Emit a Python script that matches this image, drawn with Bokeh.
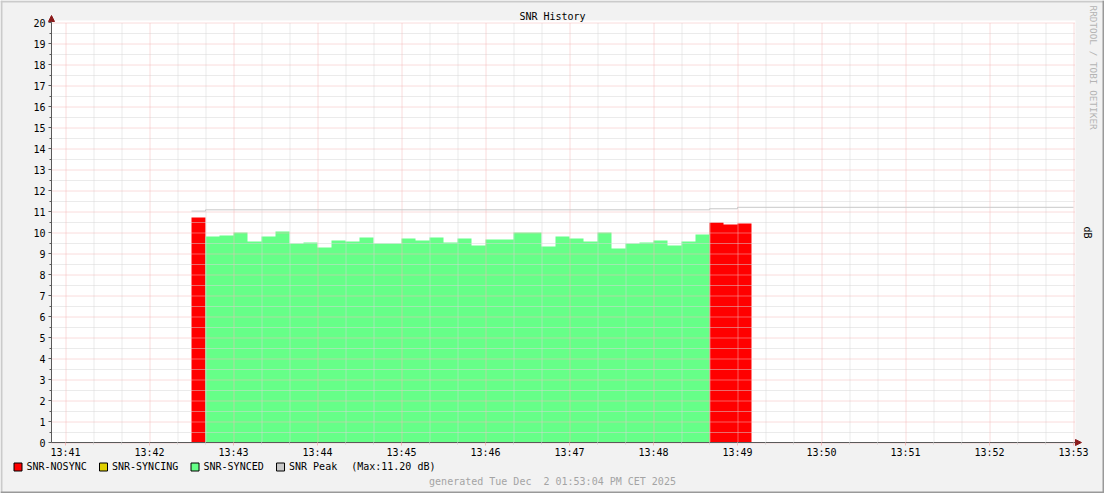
import math
import pandas as pd
from bokeh.plotting import figure
from bokeh.models import (Range1d, FixedTicker, ColumnDataSource, DatetimeTickFormatter,
                          Arrow, NormalHead, BoxAnnotation)
from bokeh.core.properties import value
from bokeh.embed import file_html
from bokeh.resources import INLINE

DAY = "2025-12-02 "
FONT = "DejaVu Sans Mono"

# ---- data ----
bar_start = "13:42:30"
bar_step_seconds = 10
snr_values = [10.71,
              9.81, 9.86, 10.00, 9.57, 9.81, 10.05, 9.48, 9.52, 9.29, 9.62, 9.57, 9.76,
              9.48, 9.48, 9.71, 9.62, 9.76, 9.52, 9.71, 9.38, 9.67, 9.67, 10.00, 10.00,
              9.33, 9.81, 9.71, 9.57, 10.00, 9.24, 9.48, 9.52, 9.62, 9.38, 9.57, 9.90,
              10.48, 10.38, 10.43]
sync_states = (["NOSYNC"] + ["SYNCED"] * 36 + ["NOSYNC"] * 3)

peak_times = ["13:42:30", "13:42:40", "13:48:40", "13:49:00", "13:53:00"]
peak_values = [11.02, 11.08, 11.13, 11.20, 11.20]
peak_max = 11.20

x_tick_labels = ["13:41", "13:42", "13:43", "13:44", "13:45", "13:46", "13:47",
                 "13:48", "13:49", "13:50", "13:51", "13:52", "13:53"]
y_tick_values = list(range(0, 21))

legend_states = ["NOSYNC", "SYNCING", "SYNCED"]
state_colors = {"NOSYNC": "#ff0000", "SYNCING": "#e0d000", "SYNCED": "#66ff88"}
state_labels = {"NOSYNC": "SNR-NOSYNC", "SYNCING": "SNR-SYNCING", "SYNCED": "SNR-SYNCED"}
peak_label = "SNR Peak"
peak_color = "#c8c8c8"

title_text = "SNR History"
unit_text = "dB"
watermark_text = "RRDTOOL / TOBI OETIKER"
footer_text = "generated Tue Dec\u00a0\u00a02 01:53:04 PM CET 2025"

# ---- page geometry (canvas pixels) ----
W, H = 1104, 493
PLOT_LEFT, PLOT_BOTTOM = 51, 442
PX_PER_S, PX_PER_DB = 1.4, 21.0
BG = "#f2f2f2"
AXIS = "#5a5a5a"
MGRID = "#f4b8b8"
GRID = "#d6d6d6"
ARROW = "#8b1a1a"

EPOCH = pd.Timestamp("1970-01-01")


def ms(ts):
    return (pd.Timestamp(ts) - EPOCH).total_seconds() * 1000.0


x_major = [ms(DAY + t) for t in x_tick_labels]
x_minor = []
for m in x_major[:-1]:
    x_minor += [m + 20000, m + 40000]
x_start = x_major[0] - 10000                      # 13:40:50 at the y axis
x_axis_end = x_major[-1] + 1400                   # end of the time axis
x_arrow_end = x_axis_end + 6 / PX_PER_S * 1000

x_range = Range1d(x_start - PLOT_LEFT / PX_PER_S * 1000, x_start + (W - PLOT_LEFT) / PX_PER_S * 1000)
y_range = Range1d(-(H - PLOT_BOTTOM) / PX_PER_DB, PLOT_BOTTOM / PX_PER_DB)

p = figure(width=W, height=H, x_axis_type="datetime", x_range=x_range, y_range=y_range,
           output_backend="svg", toolbar_location=None, min_border=0,
           background_fill_color=BG, border_fill_color=BG, outline_line_color=None)
p.extra_x_ranges = {"px": Range1d(0, W)}
p.extra_y_ranges = {"px": Range1d(H, 0)}
p.xgrid.visible = False
p.ygrid.visible = False

# white canvas of the graph
p.add_layout(BoxAnnotation(left=x_start, right=x_axis_end, bottom=0, top=20.1,
                           fill_color="#ffffff", fill_alpha=1, line_color=None, level="underlay"))

# stepped areas, one per sync state
t_first = pd.Timestamp(DAY + bar_start)
step_x = [t_first + pd.Timedelta(seconds=i * bar_step_seconds) for i in range(len(snr_values) + 1)]
for st in ["NOSYNC", "SYNCED"]:
    ys = [v if s == st else 0 for v, s in zip(snr_values, sync_states)]
    ys = ys + [ys[-1]]
    p.varea_step(x=step_x, y1=[0] * len(ys), y2=ys, step_mode="after", fill_color=state_colors[st])

# dotted grid lines drawn over the areas (half-pixel shift keeps them crisp)
HX = 0.5 / PX_PER_S * 1000
HY = 0.5 / PX_PER_DB
y_minor = [v + 0.5 for v in y_tick_values[:-1]]
p.segment(x0=[x_start] * len(y_minor), x1=[x_axis_end] * len(y_minor),
          y0=[v - HY for v in y_minor], y1=[v - HY for v in y_minor],
          line_color=GRID, line_width=1, line_dash="1 1")
p.segment(x0=[v + HX for v in x_minor], x1=[v + HX for v in x_minor],
          y0=[0] * len(x_minor), y1=[20] * len(x_minor),
          line_color=GRID, line_width=1, line_dash="1 1")
p.segment(x0=[x_start] * len(y_tick_values), x1=[x_axis_end] * len(y_tick_values),
          y0=[v - HY for v in y_tick_values], y1=[v - HY for v in y_tick_values],
          line_color=MGRID, line_width=1, line_dash="1 1")
p.segment(x0=[v + HX for v in x_major], x1=[v + HX for v in x_major],
          y0=[0] * len(x_major), y1=[20] * len(x_major),
          line_color=MGRID, line_width=1, line_dash="1 1")

# peak step line
p.step(x=[pd.Timestamp(DAY + t) for t in peak_times], y=peak_values, mode="after",
       line_color=peak_color, line_width=1)

# axes drawn at fixed places inside the canvas
xa = p.xaxis[0]
xa.fixed_location = 0
xa.bounds = (x_start, x_axis_end)
xa.ticker = FixedTicker(ticks=x_major, minor_ticks=x_minor)
xa.formatter = DatetimeTickFormatter(minutes="%H:%M", hours="%H:%M", minsec="%H:%M", seconds="%H:%M")
xa.major_tick_line_color = MGRID
xa.minor_tick_line_color = GRID
xa.major_label_standoff = 1

ya = p.yaxis[0]
ya.fixed_location = x_start
ya.bounds = (0, 20)
ya.ticker = FixedTicker(ticks=y_tick_values, minor_ticks=y_minor)
ya.major_tick_line_color = AXIS
ya.minor_tick_line_color = AXIS
ya.major_label_standoff = 3

for ax in (xa, ya):
    ax.axis_line_color = AXIS
    ax.major_tick_in = 0
    ax.major_tick_out = 3
    ax.minor_tick_in = 0
    ax.minor_tick_out = 2
    ax.major_label_text_font = FONT
    ax.major_label_text_font_size = "10px"
    ax.major_label_text_color = "#000000"

# axis arrow heads
p.add_layout(Arrow(end=NormalHead(size=6, fill_color=ARROW, line_color=ARROW),
                   x_start=x_axis_end, y_start=0, x_end=x_arrow_end, y_end=0, line_color=AXIS))
p.add_layout(Arrow(end=NormalHead(size=6, fill_color=ARROW, line_color=ARROW),
                   x_start=x_start, y_start=20, x_end=x_start, y_end=20 + 7 / PX_PER_DB,
                   line_color=AXIS))

# ---- texts and legend, placed in canvas pixels ----
txt = dict(x_range_name="px", y_range_name="px", text_font=value(FONT), text_font_size="10px")

p.text(x=[W / 2], y=[15.5], text=[title_text], text_align="center",
       text_baseline="alphabetic", text_color="#000000", **txt)

p.text(x=[1086.5], y=[232], text=[unit_text], angle=-math.pi / 2, text_align="center",
       text_baseline="alphabetic", text_color="#000000", **txt)

p.text(x=[1093], y=[5], text=[watermark_text], angle=-math.pi / 2, text_align="left",
       text_baseline="alphabetic", text_color="#b4b4b4",
       x_range_name="px", y_range_name="px", text_font=value(FONT), text_font_size="9.4px")

p.text(x=[W / 2], y=[480.5], text=[footer_text], text_align="center",
       text_baseline="alphabetic", text_color="#a4a4a4", **txt)

CHAR_W = 6.02
lg_labels = [state_labels[s] for s in legend_states] + [peak_label]
lg_colors = [state_colors[s] for s in legend_states] + [peak_color]
bx, tx = [], []
cur = 13.5
for lab in lg_labels:
    bx.append(cur)
    tx.append(cur + 12.5)
    cur = cur + 12.5 + len(lab) * CHAR_W + 12.8
p.quad(left=bx, right=[b + 8 for b in bx], top=[462.5] * len(bx), bottom=[470.5] * len(bx),
       fill_color=lg_colors, line_color="#000000", line_width=1,
       x_range_name="px", y_range_name="px")
p.text(x=tx, y=[466] * len(tx), text=lg_labels, text_align="left", text_baseline="alphabetic",
       text_color="#000000", **txt)
p.text(x=[tx[-1] + len(peak_label) * CHAR_W + 14], y=[466], text=["(Max:%.2f dB)" % peak_max],
       text_align="left", text_baseline="alphabetic", text_color="#000000", **txt)

# outer 3-D frame of the image
p.quad(left=[0, 0], right=[W, 2], top=[0, 0], bottom=[2, H], fill_color="#cbcbcb", line_color=None,
       x_range_name="px", y_range_name="px")
p.quad(left=[0, W - 2], right=[W, W], top=[H - 2, 0], bottom=[H, H], fill_color="#999999",
       line_color=None, x_range_name="px", y_range_name="px")

open("out.html", "w").write(file_html(p, INLINE))
